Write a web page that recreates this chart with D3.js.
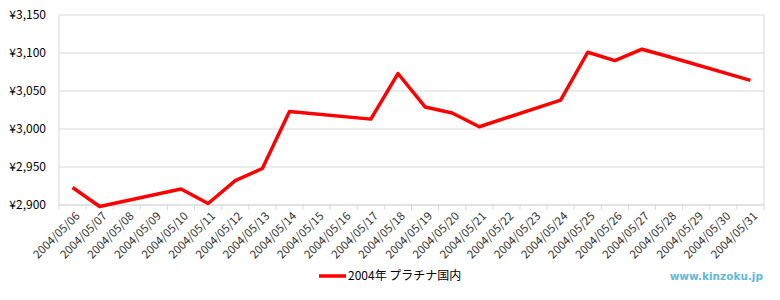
<!DOCTYPE html>
<html>
<head>
<meta charset="utf-8">
<script src="https://cdn.jsdelivr.net/npm/d3@7"></script>
<style>
  body { margin: 0; background: #fff; }
  svg { display: block; font-family: "Noto Sans CJK JP", "DejaVu Sans", sans-serif; }
</style>
</head>
<body>
<div id="chart"></div>
<script>
// dates on the x axis, one per day
const dates = ["2004/05/06","2004/05/07","2004/05/08","2004/05/09","2004/05/10","2004/05/11",
  "2004/05/12","2004/05/13","2004/05/14","2004/05/15","2004/05/16","2004/05/17","2004/05/18",
  "2004/05/19","2004/05/20","2004/05/21","2004/05/22","2004/05/23","2004/05/24","2004/05/25",
  "2004/05/26","2004/05/27","2004/05/28","2004/05/29","2004/05/30","2004/05/31"];
// price per gram, null on days with no quote (weekends)
const prices = [2923, 2898, null, null, 2921, 2902,
  2932, 2948, 3023, null, null, 3013, 3073,
  3029, 3021, 3003, null, null, 3038, 3101,
  3090, 3105, 3095, null, null, 3064];
const yTicks = [2900, 2950, 3000, 3050, 3100, 3150];
const seriesName = "2004年 プラチナ国内";

const width = 780, height = 300;
const margin = {top: 15, right: 16, bottom: 95, left: 59};

const svg = d3.select("#chart").append("svg")
  .attr("width", width).attr("height", height);

const x = d3.scaleBand()
  .domain(dates)
  .range([margin.left, width - margin.right]);

const y = d3.scaleLinear()
  .domain([2900, 3150])
  .range([height - margin.bottom, margin.top]);

const yen = d => "¥" + d3.format(",")(d);

// horizontal grid
svg.append("g")
  .selectAll("line")
  .data(yTicks)
  .join("line")
  .attr("x1", margin.left).attr("x2", width - margin.right)
  .attr("y1", d => y(d)).attr("y2", d => y(d))
  .attr("stroke", "#d9d9d9").attr("stroke-width", 1);

// side borders
[margin.left, width - margin.right].forEach(px => {
  svg.append("line")
    .attr("x1", px).attr("x2", px)
    .attr("y1", margin.top).attr("y2", y(2900))
    .attr("stroke", "#d9d9d9");
});

// y axis labels
svg.append("g")
  .selectAll("text")
  .data(yTicks)
  .join("text")
  .attr("x", margin.left - 13)
  .attr("y", d => y(d))
  .attr("dy", "0.35em")
  .attr("text-anchor", "end")
  .attr("font-size", 12)
  .attr("fill", "#000")
  .text(yen);

// x axis with ticks at category edges
const xAxis = svg.append("g")
  .attr("transform", `translate(0,${y(2900)})`);
xAxis.append("line")
  .attr("x1", margin.left).attr("x2", width - margin.right)
  .attr("stroke", "#d9d9d9");
const edges = dates.map(d => x(d)).concat([width - margin.right]);
xAxis.selectAll(".tk")
  .data(edges)
  .join("line")
  .attr("class", "tk")
  .attr("x1", d => d).attr("x2", d => d)
  .attr("y1", 0).attr("y2", 5)
  .attr("stroke", "#d9d9d9");
xAxis.selectAll("text")
  .data(dates)
  .join("text")
  .attr("transform", d => `translate(${x(d) + x.bandwidth() / 2 + 5},${9}) rotate(-45)`)
  .attr("text-anchor", "end")
  .attr("dy", "0.35em")
  .attr("font-size", 11.5)
  .attr("fill", "#333")
  .text(d => d);

// the series line, bridging the gaps
const pts = dates.map((d, i) => ({date: d, value: prices[i]})).filter(p => p.value != null);
const line = d3.line()
  .x(p => x(p.date) + x.bandwidth() / 2)
  .y(p => y(p.value));
svg.append("path")
  .datum(pts)
  .attr("d", line)
  .attr("fill", "none")
  .attr("stroke", "#ff0000")
  .attr("stroke-width", 3.5)
  .attr("stroke-linejoin", "round");

// legend
const lg = svg.append("g").attr("transform", "translate(319,276)");
lg.append("line")
  .attr("x1", 0).attr("x2", 27)
  .attr("stroke", "#ff0000").attr("stroke-width", 3.5);
lg.append("text")
  .attr("x", 29).attr("dy", "0.35em")
  .attr("font-size", 12).attr("fill", "#000")
  .text(seriesName);

// watermark
svg.append("text")
  .attr("x", 763).attr("y", 276).attr("dy", "0.35em")
  .attr("text-anchor", "end")
  .attr("font-size", 10.5).attr("font-weight", "bold")
  .attr("font-family", "DejaVu Sans, sans-serif")
  .attr("fill", "#5fb9dc")
  .text("www.kinzoku.jp");
</script>
</body>
</html>
